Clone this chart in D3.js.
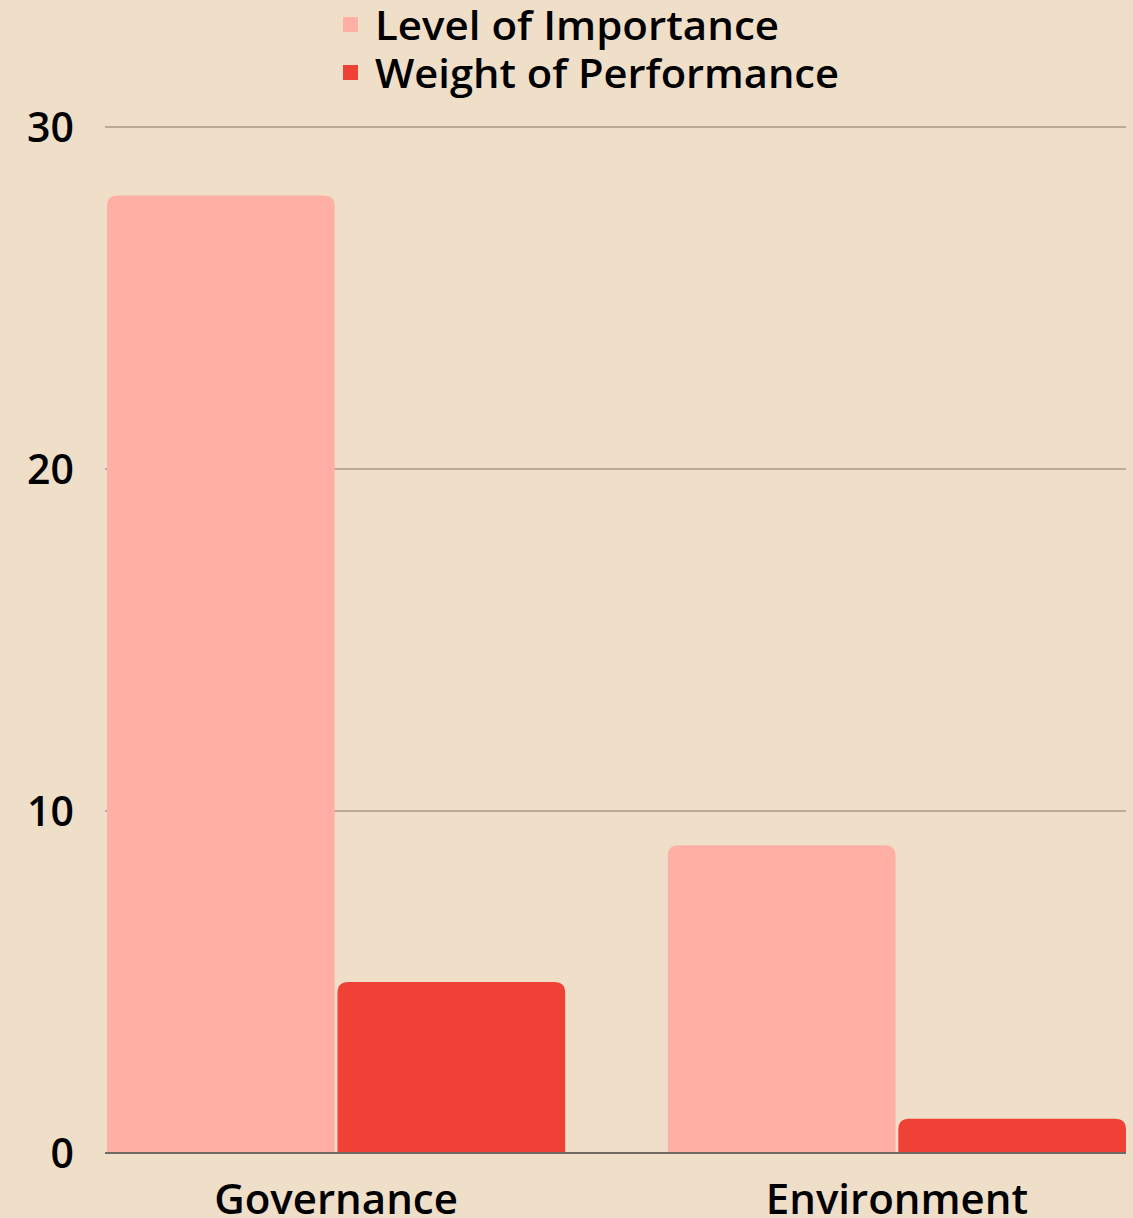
<!DOCTYPE html>
<html>
<head>
<meta charset="utf-8">
<script src="https://cdn.jsdelivr.net/npm/d3@7"></script>
<style>
  html, body { margin: 0; padding: 0; background: #efdec8; }
  svg { display: block; }
  text { font-family: "Open Sans", sans-serif; font-weight: 600; fill: #000; }
</style>
</head>
<body>
<svg id="chart"></svg>
<script>
const categories = ["Governance", "Environment"];
const seriesNames = ["Level of Importance", "Weight of Performance"];
const importance = [28, 9];
const performance = [5, 1];
const yTicks = [0, 10, 20, 30];

const colors = ["#ffafa3", "#ef4136"];

const w = 1133;
const h = 1218;
const mLeft = 105;
const mRight = 1126;
const mTop = 127;
const mBottom = 1153;

const svg = d3.select("#chart").attr("width", w).attr("height", h);

svg.append("rect").attr("width", w).attr("height", h).attr("fill", "#efdec8");

const x0 = d3.scaleBand()
  .domain(categories)
  .range([mLeft + 2, mRight])
  .paddingInner(0.183)
  .paddingOuter(0);

const x1 = d3.scaleBand()
  .domain(seriesNames)
  .range([0, x0.bandwidth()])
  .paddingInner(0.012);

const y = d3.scaleLinear().domain([0, 30]).range([mBottom, mTop]);

// gridlines
svg.append("g")
  .selectAll("line")
  .data(yTicks.filter((d) => d > 0))
  .enter()
  .append("line")
  .attr("x1", mLeft)
  .attr("x2", mRight)
  .attr("y1", (d) => y(d))
  .attr("y2", (d) => y(d))
  .attr("stroke", "#b9ab98")
  .attr("stroke-width", 2);

// y tick labels
svg.append("g")
  .selectAll("text")
  .data(yTicks)
  .enter()
  .append("text")
  .attr("x", 74)
  .attr("y", (d) => y(d))
  .attr("dy", "0.36em")
  .attr("text-anchor", "end")
  .attr("font-size", 41)
  .text((d) => d);

const rows = categories.map((c, i) => ({
  cat: c,
  values: [importance[i], performance[i]]
}));

function topRounded(x, yTop, bw, hgt, r) {
  r = Math.min(r, hgt, bw / 2);
  return `M${x},${yTop + hgt}V${yTop + r}Q${x},${yTop} ${x + r},${yTop}` +
    `H${x + bw - r}Q${x + bw},${yTop} ${x + bw},${yTop + r}V${yTop + hgt}Z`;
}

svg.append("g")
  .selectAll("g")
  .data(rows)
  .enter()
  .append("g")
  .attr("transform", (d) => `translate(${x0(d.cat)},0)`)
  .selectAll("path")
  .data((d) => d.values.map((v, j) => ({ key: seriesNames[j], value: v, j })))
  .enter()
  .append("path")
  .attr("fill", (d) => colors[d.j])
  .attr("d", (d) => topRounded(x1(d.key), y(d.value), x1.bandwidth(), y(0) - y(d.value), 11));

// baseline
svg.append("line")
  .attr("x1", mLeft)
  .attr("x2", mRight)
  .attr("y1", y(0))
  .attr("y2", y(0))
  .attr("stroke", "#6f6a62")
  .attr("stroke-width", 2);

// x labels
svg.append("g")
  .selectAll("text")
  .data(categories)
  .enter()
  .append("text")
  .attr("x", (d) => x0(d) + x0.bandwidth() / 2)
  .attr("y", 1214)
  .attr("text-anchor", "middle")
  .attr("font-size", 42)
  .text((d) => d);

// legend
const legend = svg.append("g")
  .selectAll("g")
  .data(seriesNames)
  .enter()
  .append("g")
  .attr("transform", (d, i) => `translate(343,${17 + i * 48})`);

legend.append("rect")
  .attr("width", 15)
  .attr("height", 15)
  .attr("fill", (d, i) => colors[i]);

legend.append("text")
  .attr("x", 32)
  .attr("y", 23)
  .attr("font-size", 40)
  .attr("textLength", (d, i) => (i === 0 ? 404 : 464))
  .attr("lengthAdjust", "spacingAndGlyphs")
  .text((d) => d);
</script>
</body>
</html>
